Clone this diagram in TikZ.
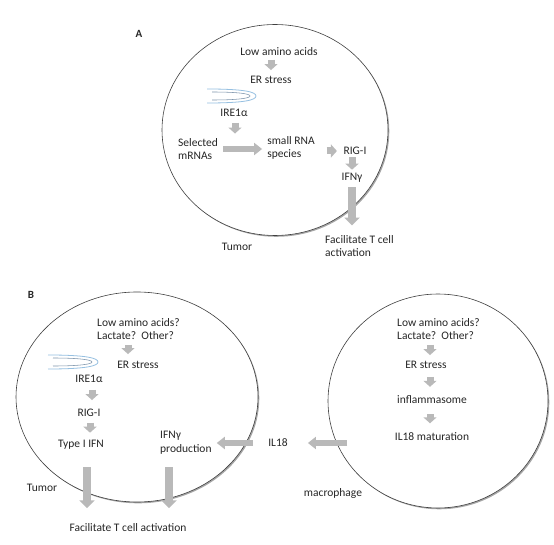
\documentclass[tikz,border=0pt]{standalone}
\usepackage{fontspec}
\setmainfont{Carlito}
\usetikzlibrary{arrows.meta,shapes.geometric,shadows,calc}
\definecolor{arrgray}{RGB}{185,185,185}
\definecolor{txt}{RGB}{38,38,38}
\definecolor{memA}{RGB}{150,192,225}
\definecolor{memB}{RGB}{125,148,172}
\begin{document}
\begin{tikzpicture}[x=1pt,y=-1pt,
  txtnode/.style={inner sep=0pt, font=\fontsize{11.5}{13.5}\selectfont, text=txt},
  tightnode/.style={inner sep=0pt, font=\fontsize{11.5}{12.5}\selectfont, text=txt},
  lbl/.style={inner sep=0pt, font=\fontsize{11}{13}\selectfont\bfseries, text=txt},
  cellshape/.style={ellipse, draw=black!75, line width=0.6pt, fill=white,
    drop shadow={shadow xshift=1.3pt, shadow yshift=-1.3pt, opacity=0.35, fill=black}},
  smallarr/.style={draw=arrgray, line width=7pt, -{Triangle[width=13pt,length=6pt]}},
  bigarr/.style={draw=arrgray, line width=6pt, -{Triangle[width=12pt,length=8pt]}},
  longarr/.style={draw=arrgray, line width=8pt, -{Triangle[width=15pt,length=8pt]}},
  memout/.style={draw=memA, line width=0.8pt},
  memin/.style={draw=memB, line width=0.55pt}]
\useasboundingbox (0,0) rectangle (554,545);

% cells
\node[cellshape, minimum width=226pt, minimum height=211pt] (cellA) at (275,130) {};
\node[cellshape, minimum width=242pt, minimum height=210pt] (cellB) at (137,397) {};
\node[cellshape, minimum width=220pt, minimum height=214pt] (cellM) at (438,401) {};

% ---------- Panel A ----------
\node[lbl] (labA) at (139,34) {A};
\node[txtnode] (tA1) at (279,52) {Low amino acids};
\node[txtnode] (tA2) at (271,80) {ER stress};
\node[txtnode] (tA3) at (234,113) {IRE1α};
\node[txtnode, align=left] (tA4) at (198,149) {Selected\\mRNAs};
\node[txtnode, align=left] (tA5) at (291,148) {small RNA\\species};
\node[txtnode] (tA6) at (355,151) {RIG-I};
\node[txtnode] (tA7) at (352,178) {IFNγ};
\node[txtnode, align=left, anchor=west] (tA8) at (325,246) {Facilitate T cell\\activation};
\node[txtnode] (tA9) at (237,247) {Tumor};

% membrane A
\draw[memout] (207,89) .. controls (245,89) and (256,92) .. (256,96)
  .. controls (256,100) and (245,103) .. (207,103);
\draw[memin] (212,92) .. controls (240,92) and (250,94) .. (250,96)
  .. controls (250,98) and (240,100) .. (212,100);

% arrows A
\draw[smallarr, shorten <=3.5pt, shorten >=6pt] (tA1.south -| tA2.north) -- (tA2.north);
\draw[smallarr, shorten <=6pt, shorten >=4.5pt] ([xshift=1pt]tA3.south) -- ([xshift=1pt]tA3.south |- tA4.north);
\draw[bigarr, shorten <=5pt, shorten >=5pt] (tA4.east) -- (tA4.east -| tA5.west);
\draw[smallarr, shorten <=12pt, shorten >=6.5pt] (tA5.east |- tA6.west) -- (tA6.west);
\draw[smallarr, shorten <=2.5pt, shorten >=3.5pt] (tA6.south -| tA7.north) -- (tA7.north);
\draw[longarr, shorten <=4.5pt, shorten >=9.5pt] (tA7.south) -- (tA7.south |- tA8.north);

% ---------- Panel B ----------
\node[lbl] (labB) at (31,295) {B};
\node[tightnode, align=left, anchor=west] (tB1) at (97,329) {Low amino acids?\\Lactate?~~Other?};
\node[txtnode] (tB2) at (138,365) {ER stress};
\node[txtnode] (tB3) at (89,379) {IRE1α};
\node[txtnode] (tB4) at (89,413) {RIG-I};
\node[txtnode] (tB5) at (81,445) {Type I IFN};
\node[txtnode, align=left, anchor=west, font=\fontsize{11.5}{14}\selectfont] (tB6) at (160,443) {IFNγ\\production};
\node[txtnode] (tB7) at (128,528) {Facilitate T cell activation};
\node[txtnode] (tB8) at (42,488) {Tumor};
\node[txtnode] (tIL) at (278,443) {IL18};

% membrane B
\draw[memout] (48,355) .. controls (86,355) and (98,358) .. (98,362)
  .. controls (98,366) and (86,369) .. (48,369);
\draw[memin] (53,358) .. controls (81,358) and (92,360) .. (92,362)
  .. controls (92,364) and (81,366) .. (53,366);

% macrophage
\node[tightnode, align=left, anchor=west] (tR1) at (397,329) {Low amino acids?\\Lactate?~~Other?};
\node[txtnode] (tR2) at (426,365) {ER stress};
\node[txtnode] (tR3) at (432,400) {inflammasome};
\node[txtnode] (tR4) at (432,437) {IL18 maturation};
\node[txtnode] (tR5) at (333,493) {macrophage};

% arrows B
\draw[smallarr, shorten <=5.5pt, shorten >=7pt] ([xshift=-10pt]tB2.north |- tB1.south) -- ([xshift=-10pt]tB2.north);
\draw[smallarr, shorten <=7pt, shorten >=9pt] ([xshift=3pt]tB3.south) -- ([xshift=3pt]tB3.south |- tB4.north);
\draw[smallarr, shorten <=6pt, shorten >=7.5pt] ([xshift=1pt]tB4.south) -- ([xshift=1pt]tB4.south |- tB5.north);
\draw[longarr, shorten <=17.5pt, shorten >=15.5pt] ([xshift=6pt]tB5.south) -- ([xshift=6pt]tB5.south |- tB7.north);
\draw[longarr, shorten <=12.5pt, shorten >=15.5pt] ([xshift=9pt]tB6.south west) -- ([xshift=9pt]tB6.south west |- tB7.north);
\draw[bigarr, shorten <=15pt, shorten >=5pt] (tIL.west) -- (tIL.west -| tB6.east);
\draw[bigarr, shorten <=47.5pt, shorten >=20pt] (tIL.east -| tR4.west) -- (tIL.east);

\draw[smallarr, shorten <=5.5pt, shorten >=6pt] ([xshift=4pt]tR2.north |- tR1.south) -- ([xshift=4pt]tR2.north);
\draw[smallarr, shorten <=8pt, shorten >=9pt] ([xshift=4pt]tR2.south) -- ([xshift=4pt]tR2.south |- tR3.north);
\draw[smallarr, shorten <=10pt, shorten >=9.5pt] ([xshift=-2pt]tR3.south) -- ([xshift=-2pt]tR3.south |- tR4.north);
\end{tikzpicture}
\end{document}
